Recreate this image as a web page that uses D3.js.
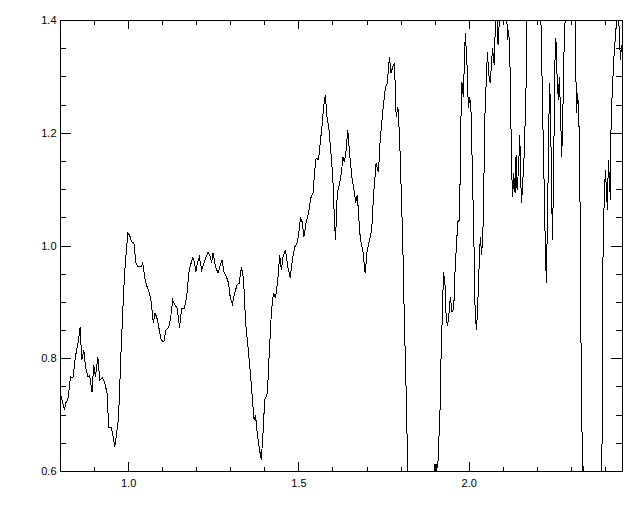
<!DOCTYPE html>
<html lang="en">
<head>
<meta charset="UTF-8">
<title>Spectrum plot</title>
<style>
    body { margin: 0; background: #fff; }
    svg { display: block; }
    .axis text { font-family: "Liberation Sans", Arial, sans-serif; font-size: 11px; fill: #000; }
    .axis path, .axis line { stroke: #000; stroke-width: 1; shape-rendering: crispEdges; }
</style>
</head>
<body>
<svg id="plot" width="640" height="512"></svg>
<script src="https://d3js.org/d3.v7.min.js"></script>
<script>
// x values (wavelength)
var wave = [0.801,0.806,0.813,0.817,0.823,0.831,0.838,0.845,0.853,0.859,0.864,0.870,0.875,0.882,0.887,0.894,0.899,0.904,0.911,0.917,
    0.924,0.931,0.938,0.943,0.950,0.955,0.961,0.968,0.972,0.979,0.987,0.991,0.999,1.004,1.007,1.011,1.017,1.023,1.030,1.038,
    1.043,1.050,1.056,1.060,1.067,1.074,1.079,1.084,1.090,1.097,1.105,1.111,1.119,1.124,1.131,1.138,1.144,1.151,1.157,1.165,
    1.172,1.178,1.183,1.190,1.195,1.199,1.204,1.209,1.216,1.224,1.231,
    1.235,1.240,1.245,1.249,1.257,1.264,1.269,1.276,1.281,1.289,1.295,1.300,1.306,1.313,1.320,1.326,1.333,1.339,1.345,1.352,
    1.359,1.365,1.370,1.374,1.379,1.386,1.391,1.396,1.401,1.409,1.413,1.421,1.427,1.433,1.440,1.445,1.450,1.455,1.462,1.469,
    1.476,1.482,1.489,1.496,1.501,1.506,1.511,1.516,1.523,1.530,1.536,1.543,1.548,1.552,1.559,1.564,1.569,1.574,1.579,1.584,
    1.589,1.594,1.601,1.606,1.609,1.614,1.621,1.626,1.631,1.635,1.640,1.645,1.650,1.658,1.665,1.668,1.673,1.677,1.682,1.689,
    1.696,1.702,1.709,1.715,1.721,1.728,1.735,1.740,1.748,1.755,1.761,1.767,1.772,1.777,1.782,1.787,1.792,1.797,1.802,1.806,
    1.811,1.816,1.821,
    1.829,1.850,1.873,1.891,1.899,1.901,1.904,1.906,1.909,1.912,1.916,1.919,1.922,1.926,1.931,1.934,1.938,1.943,1.946,1.951,
    1.956,1.960,1.964,1.968,1.973,1.977,1.980,1.984,1.990,1.995,1.999,2.003,2.007,2.010,2.015,2.019,2.023,2.028,2.031,2.034,
    2.038,2.043,2.047,2.052,2.055,2.059,2.063,2.067,2.070,2.075,2.078,2.082,2.086,2.090,2.102,2.112,2.114,2.117,2.120,2.122,
    2.126,2.129,2.132,2.136,2.139,2.142,2.146,2.150,2.152,2.155,2.158,2.163,2.168,2.171,2.190,2.212,2.215,2.219,2.222,2.225,
    2.228,2.231,2.234,2.237,2.240,2.243,2.246,2.248,2.251,2.253,2.256,2.259,2.263,2.266,2.269,2.273,2.276,2.279,2.283,2.295,
    2.313,2.316,2.320,2.323,2.326,2.328,2.331,2.334,2.336,2.338,2.341,2.360,2.383,2.391,2.393,2.395,2.398,2.401,2.404,2.407,
    2.410,2.413,2.416,2.418,2.422,2.427,2.432,2.438,2.443,2.445,2.449];

// y values, same order (points past 0.6 / 1.4 are clipped like the original)
var flux = [0.738,0.726,0.708,0.721,0.726,0.767,0.765,0.802,0.827,0.855,0.797,0.815,0.784,0.767,0.770,0.740,0.788,0.767,0.802,0.761,
    0.765,0.758,0.738,0.678,0.678,0.664,0.643,0.676,0.696,0.809,0.921,0.962,1.022,1.019,1.013,1.006,1.004,0.969,0.962,0.962,
    0.969,0.939,0.926,0.921,0.903,0.863,0.880,0.873,0.855,0.832,0.829,0.850,0.855,0.868,0.903,0.894,0.889,0.854,0.889,0.889,
    0.909,0.951,0.965,0.978,0.969,0.953,0.971,0.980,0.957,0.971,0.983,
    0.988,0.983,0.969,0.987,0.962,0.951,0.962,0.974,0.953,0.944,0.933,0.907,0.896,0.916,0.930,0.933,0.962,0.939,0.863,0.820,
    0.774,0.726,0.690,0.699,0.667,0.637,0.620,0.667,0.726,0.738,0.792,0.886,0.916,0.907,0.944,0.983,0.957,0.980,0.992,0.962,
    0.942,0.974,0.997,1.004,1.022,1.049,1.042,1.015,1.042,1.058,1.084,1.093,1.134,1.155,1.152,1.182,1.210,1.246,1.267,1.228,
    1.210,1.175,1.121,1.040,1.010,1.093,1.111,1.129,1.157,1.148,1.169,1.205,1.164,1.116,1.093,1.075,1.090,1.051,1.010,0.992,
    0.951,0.992,1.010,1.027,1.093,1.146,1.130,1.187,1.240,1.279,1.288,1.334,1.306,1.317,1.324,1.228,1.246,1.192,1.093,1.015,
    0.868,0.749,0.602,
    0.50,0.44,0.47,0.55,0.60,0.612,0.596,0.609,0.605,0.650,0.714,0.809,0.868,0.953,0.926,0.868,0.857,0.886,0.909,0.882,
    0.889,0.957,1.001,1.042,1.045,1.223,1.290,1.263,1.377,1.320,1.244,1.263,1.235,1.152,1.015,0.877,0.850,0.918,0.974,1.015,
    0.983,1.045,1.223,1.302,1.343,1.302,1.288,1.324,1.350,1.320,1.388,1.42,1.356,1.40,1.50,1.40,1.365,1.382,1.352,1.294,
    1.134,1.086,1.129,1.093,1.161,1.098,1.134,1.196,1.129,1.075,1.104,1.164,1.270,1.40,1.55,1.40,1.306,1.175,1.093,0.992,
    0.933,1.045,1.157,1.288,1.253,1.104,1.010,1.086,1.223,1.324,1.368,1.306,1.258,1.299,1.246,1.157,1.223,1.329,1.40,1.50,
    1.40,1.235,1.270,1.228,1.164,0.926,0.749,0.60,0.57,0.609,0.55,0.42,0.46,0.60,0.868,1.045,1.075,1.134,1.104,1.063,
    1.152,1.116,1.081,1.223,1.281,1.341,1.382,1.42,1.373,1.329,1.356];

var xTicks = [1.0, 1.5, 2.0];
var xMinor = [0.9, 1.1, 1.2, 1.3, 1.4, 1.6, 1.7, 1.8, 1.9, 2.1, 2.2, 2.3, 2.4];
var yTicks = [0.6, 0.8, 1.0, 1.2, 1.4];
var yMinor = [0.65, 0.7, 0.75, 0.85, 0.9, 0.95, 1.05, 1.1, 1.15, 1.25, 1.3, 1.35];

var margin = { top: 20, left: 60 };
var width = 562, height = 451;

var svg = d3.select('#plot');
var g = svg.append('g').attr('transform', 'translate(' + margin.left + ',' + margin.top + ')');

var x = d3.scaleLinear().domain([0.8, 2.45]).range([0, width]);
var y = d3.scaleLinear().domain([0.6, 1.4]).range([height, 0]);

var fmt = d3.format('.1f');

// clip the curve to the frame
svg.append('defs').append('clipPath').attr('id', 'clip')
    .append('rect').attr('width', width).attr('height', height);

// axes: major ticks with labels, then minor ticks
function addAxis(axis, transform, ticks, len, labels, padding) {
    var a = g.append('g').attr('class', 'axis').attr('transform', transform)
        .call(axis.tickValues(ticks).tickSize(-len).tickSizeOuter(0)
            .tickPadding(padding || 3)
            .tickFormat(labels ? fmt : ''));
    return a;
}

addAxis(d3.axisBottom(x), 'translate(0,' + height + ')', xTicks, 9, true, 8);
addAxis(d3.axisBottom(x), 'translate(0,' + height + ')', xMinor, 4.5, false);
addAxis(d3.axisTop(x), 'translate(0,0)', xTicks, 9, false);
addAxis(d3.axisTop(x), 'translate(0,0)', xMinor, 4.5, false);
addAxis(d3.axisLeft(y), 'translate(0,0)', yTicks, 11.3, true, 3.5);
addAxis(d3.axisLeft(y), 'translate(0,0)', yMinor, 5.6, false);
addAxis(d3.axisRight(y), 'translate(' + width + ',0)', yTicks, 11.3, false);
addAxis(d3.axisRight(y), 'translate(' + width + ',0)', yMinor, 5.6, false);

var line = d3.line()
    .x(function(d, i) { return x(wave[i]); })
    .y(function(d) { return y(d); });

// aliased 1px line, like the original device output
g.append('path')
    .datum(flux)
    .attr('clip-path', 'url(#clip)')
    .attr('d', line)
    .attr('fill', 'none')
    .attr('stroke', '#000')
    .attr('stroke-width', 1)
    .attr('shape-rendering', 'crispEdges');
</script>
</body>
</html>
